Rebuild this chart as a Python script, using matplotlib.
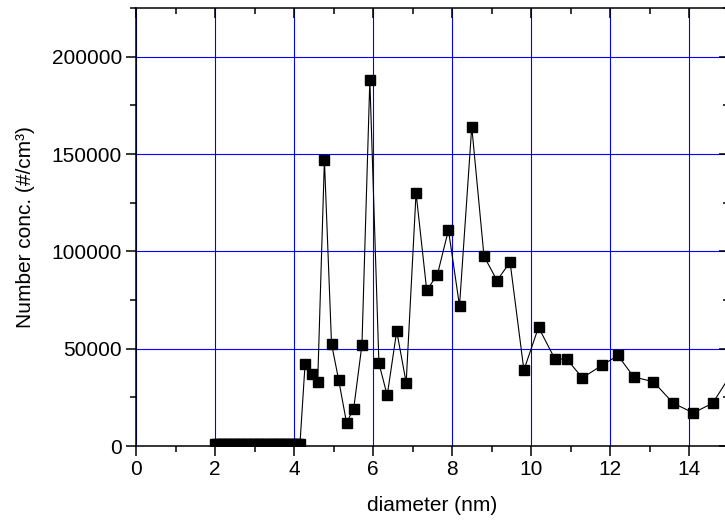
import matplotlib
matplotlib.use("Agg")
import matplotlib.pyplot as plt
from matplotlib.ticker import MultipleLocator

# size distribution
low_diam = [2.00, 2.06, 2.12, 2.18, 2.24, 2.30, 2.36, 2.42, 2.48, 2.54, 2.60,
            2.66, 2.72, 2.78, 2.84, 2.90, 2.96, 3.02, 3.08, 3.14, 3.20, 3.26,
            3.32, 3.38, 3.44, 3.50, 3.56, 3.62, 3.68, 3.74, 3.80, 3.86, 3.92,
            3.98, 4.04, 4.10, 4.15]
low_conc = [800] * len(low_diam)

peak_diam = [4.28, 4.45, 4.60, 4.77, 4.95, 5.13, 5.33, 5.51, 5.72, 5.92,
             6.15, 6.36, 6.60, 6.84, 7.09, 7.36, 7.63, 7.91, 8.19, 8.50,
             8.81, 9.14, 9.47, 9.82, 10.19, 10.61, 10.90, 11.30, 11.80, 12.20,
             12.60, 13.10, 13.60, 14.11, 14.60, 15.10]
peak_conc = [42000, 37000, 33000, 147000, 52500, 34000, 12000, 19000, 52000, 188000,
             42500, 26000, 59000, 32500, 130000, 80000, 88000, 111000, 72000, 164000,
             97500, 85000, 94500, 39000, 61000, 44500, 44800, 35000, 41500, 46500,
             35500, 33000, 22000, 17000, 22000, 38000]

diameter = low_diam + peak_diam
conc = low_conc + peak_conc

x_ticks = [0, 2, 4, 6, 8, 10, 12, 14]
y_ticks = [0, 50000, 100000, 150000, 200000]
x_lim = (0, 15)
y_lim = (0, 225000)

plt.rcParams["font.family"] = ["Liberation Sans", "DejaVu Sans"]

fig = plt.figure(figsize=(7.25, 5.27), dpi=100)
rect = [136 / 725, 1 - 446 / 527, (728.5 - 136) / 725, (446 - 8) / 527]
ax = fig.add_axes(rect)

ax.plot(diameter, conc, color="black", lw=0.8, marker="s", ms=7.2,
        mfc="black", mec="black", zorder=3)

ax.set_xlim(*x_lim)
ax.set_ylim(*y_lim)
ax.set_xticks(x_ticks)
ax.set_yticks(y_ticks)
ax.xaxis.set_minor_locator(MultipleLocator(1))
ax.yaxis.set_minor_locator(MultipleLocator(25000))
ax.set_xticklabels([str(v) for v in x_ticks])
ax.set_yticklabels([str(v) for v in y_ticks])

ax.grid(True, which="major", color="#0000ff", lw=0.8)
ax.set_axisbelow(True)

for s in ax.spines.values():
    s.set_linewidth(1.1)

ax.tick_params(which="both", direction="out", labelsize=15, width=1.1, pad=3)
ax.tick_params(which="major", length=7)
ax.tick_params(which="minor", length=4)

# top and right ticks point inward: separate overlay axes, no labels
frame = fig.add_axes(rect, frameon=False, sharex=ax)
frame.set_ylim(*y_lim)
frame.set_yticks(y_ticks)
frame.yaxis.set_minor_locator(MultipleLocator(25000))
frame.patch.set_visible(False)
frame.tick_params(which="both", direction="in", width=1.1,
                  bottom=False, left=False, top=True, right=True,
                  labelbottom=False, labelleft=False, labeltop=False, labelright=False)
frame.tick_params(which="major", length=7)
frame.tick_params(which="minor", length=4)

ax.set_xlabel("diameter (nm)", fontsize=15, labelpad=12)
ax.set_ylabel("Number conc. (#/cm³)", fontsize=15, labelpad=12)

fig.savefig("out.png", dpi=100)
